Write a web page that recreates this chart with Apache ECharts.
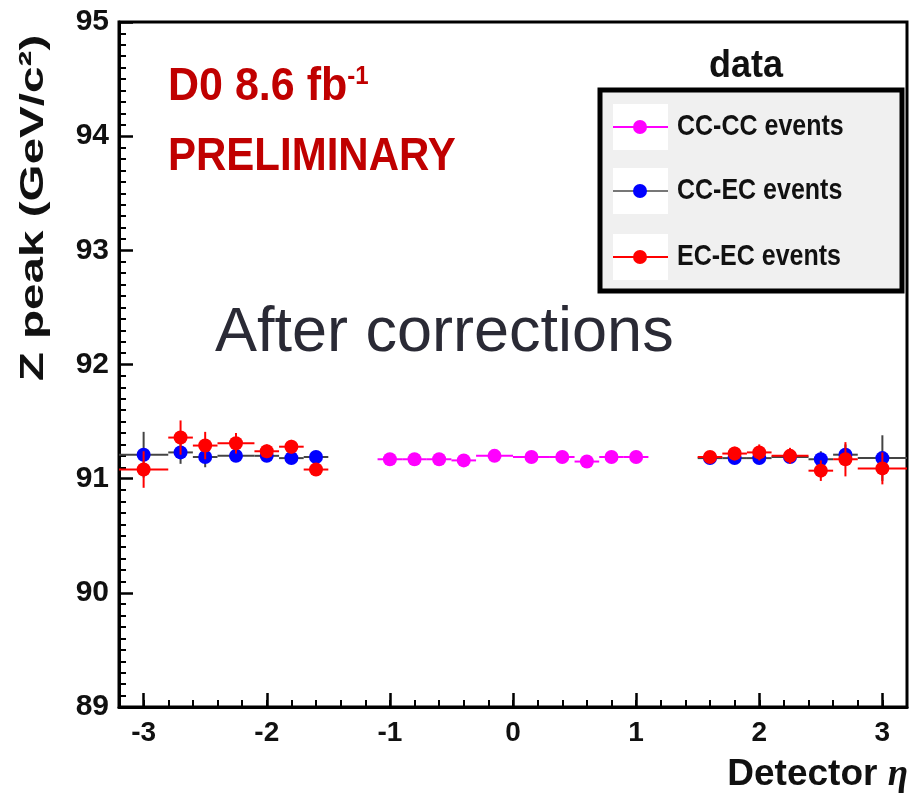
<!DOCTYPE html>
<html>
<head>
<meta charset="utf-8">
<script src="https://cdn.jsdelivr.net/npm/echarts@6/dist/echarts.min.js"></script>
<style>
  html, body { margin: 0; padding: 0; background: #ffffff; }
  #chart { width: 924px; height: 796px; }
</style>
</head>
<body>
<div id="chart"></div>
<script>
// Z peak position versus detector eta, split by event topology

// axis ticks
const etaTicks = [-3, -2, -1, 0, 1, 2, 3];
const massTicks = [89, 90, 91, 92, 93, 94, 95];

// CC-CC events: bin centre, bin low edge, bin high edge, peak, peak error
const ccccEta  = [-1.0, -0.8, -0.6, -0.4, -0.15, 0.15, 0.4, 0.6, 0.8, 1.0];
const ccccLow  = [-1.1, -0.9, -0.7, -0.5, -0.3, 0.0, 0.3, 0.5, 0.7, 0.9];
const ccccHigh = [-0.9, -0.7, -0.5, -0.3, 0.0, 0.3, 0.5, 0.7, 0.9, 1.1];
const ccccPeak = [91.17, 91.17, 91.17, 91.16, 91.20, 91.19, 91.19, 91.15, 91.19, 91.19];
const ccccErr  = [0.03, 0.03, 0.03, 0.03, 0.03, 0.03, 0.03, 0.03, 0.03, 0.03];

// CC-EC events
const ccecEta  = [-3.0, -2.7, -2.5, -2.25, -2.0, -1.8, -1.6, 1.6, 1.8, 2.0, 2.25, 2.5, 2.7, 3.0];
const ccecLow  = [-3.2, -2.8, -2.6, -2.4, -2.1, -1.9, -1.7, 1.5, 1.7, 1.9, 2.1, 2.4, 2.6, 2.8];
const ccecHigh = [-2.8, -2.6, -2.4, -2.1, -1.9, -1.7, -1.5, 1.7, 1.9, 2.1, 2.4, 2.6, 2.8, 3.2];
const ccecPeak = [91.21, 91.23, 91.19, 91.20, 91.20, 91.18, 91.19, 91.18, 91.18, 91.18, 91.19, 91.17, 91.21, 91.18];
const ccecErr  = [0.20, 0.10, 0.09, 0.05, 0.04, 0.03, 0.03, 0.03, 0.03, 0.03, 0.04, 0.07, 0.09, 0.20];

// EC-EC events
const ececEta  = [-3.0, -2.7, -2.5, -2.25, -2.0, -1.8, -1.6, 1.6, 1.8, 2.0, 2.25, 2.5, 2.7, 3.0];
const ececLow  = [-3.2, -2.8, -2.6, -2.4, -2.1, -1.9, -1.7, 1.5, 1.7, 1.9, 2.1, 2.4, 2.6, 2.8];
const ececHigh = [-2.8, -2.6, -2.4, -2.1, -1.9, -1.7, -1.5, 1.7, 1.9, 2.1, 2.4, 2.6, 2.8, 3.2];
const ececPeak = [91.08, 91.36, 91.29, 91.31, 91.24, 91.28, 91.08, 91.19, 91.22, 91.23, 91.20, 91.07, 91.17, 91.09];
const ececErr  = [0.16, 0.15, 0.12, 0.09, 0.06, 0.06, 0.05, 0.05, 0.06, 0.07, 0.07, 0.09, 0.15, 0.14];

const seriesNames = ['CC-CC events', 'CC-EC events', 'EC-EC events'];
const markerColors = ['#ff00ff', '#0000ff', '#ff0000'];
const barColors = ['#ff00ff', '#444444', '#ff0000'];

// minor eta ticks every 0.2 across the axis range
const etaMinor = [];
for (let k = -16; k <= 16; k++) etaMinor.push(Math.round(k * 2) / 10);

function rows(eta, lo, hi, peak, err) {
  return eta.map((e, i) => [e, lo[i], hi[i], peak[i], err[i]]);
}

function errorBarRenderer(markerColor, barColor) {
  return function (params, api) {
    const x = api.value(0), lo = api.value(1), hi = api.value(2);
    const y = api.value(3), e = api.value(4);
    const c = api.coord([x, y]);
    const pl = api.coord([lo, y]);
    const ph = api.coord([hi, y]);
    const pt = api.coord([x, y + e]);
    const pb = api.coord([x, y - e]);
    const lineStyle = { stroke: barColor, lineWidth: 2 };
    return {
      type: 'group',
      children: [
        { type: 'line', shape: { x1: pl[0], y1: pl[1], x2: ph[0], y2: ph[1] }, style: lineStyle },
        { type: 'line', shape: { x1: pt[0], y1: pt[1], x2: pb[0], y2: pb[1] }, style: lineStyle },
        { type: 'circle', shape: { cx: c[0], cy: c[1], r: 7 }, style: { fill: markerColor } }
      ]
    };
  };
}

const datasets = [
  rows(ccccEta, ccccLow, ccccHigh, ccccPeak, ccccErr),
  rows(ccecEta, ccecLow, ccecHigh, ccecPeak, ccecErr),
  rows(ececEta, ececLow, ececHigh, ececPeak, ececErr)
];

const series = datasets.map((d, i) => ({
  name: seriesNames[i],
  type: 'custom',
  xAxisIndex: 0,
  yAxisIndex: 0,
  clip: true,
  z: 10 + i,
  data: d,
  encode: { x: [0, 1, 2], y: [3] },
  renderItem: errorBarRenderer(markerColors[i], barColors[i])
}));

// legend drawn as graphic rows
const legendBox = { x: 600, y: 90, w: 302, h: 201 };
const legendRowsY = [127, 191, 257];
const legendChildren = [
  { type: 'rect', shape: { x: legendBox.x, y: legendBox.y, width: legendBox.w, height: legendBox.h },
    style: { fill: '#f0f0f0', stroke: '#000', lineWidth: 5 } }
];
seriesNames.forEach((name, i) => {
  const y = legendRowsY[i];
  legendChildren.push(
    { type: 'rect', shape: { x: 613, y: y - 23, width: 55, height: 46 }, style: { fill: '#ffffff' } },
    { type: 'line', shape: { x1: 613, y1: y, x2: 668, y2: y }, style: { stroke: i === 1 ? '#777777' : markerColors[i], lineWidth: 2 } },
    { type: 'circle', shape: { cx: 640, cy: y, r: 7 }, style: { fill: markerColors[i] } },
    { type: 'text', x: 677, y: y, scaleY: 1.15, style: { text: name, font: 'bold 25px "Liberation Sans", Arial, sans-serif', fill: '#111', textVerticalAlign: 'middle' } }
  );
});

const chart = echarts.init(document.getElementById('chart'), null, { renderer: 'canvas' });

chart.setOption({
  animation: false,
  backgroundColor: '#ffffff',
  grid: {
    left: 119, right: 17, top: 22, bottom: 89,
    show: true, borderColor: '#000', borderWidth: 3, backgroundColor: 'transparent'
  },
  xAxis: [
    {
      type: 'value', min: -3.2, max: 3.2, position: 'bottom',
      axisLine: { show: true, onZero: false, lineStyle: { color: '#000', width: 3 } },
      axisTick: { show: true, inside: true, length: 14, customValues: etaTicks, lineStyle: { color: '#000', width: 2.5 } },
      axisLabel: {
        show: true, customValues: etaTicks, margin: 12,
        color: '#111', fontSize: 28, fontWeight: 'bold', fontFamily: 'Liberation Sans, Arial, sans-serif'
      },
      splitLine: { show: false }
    },
    {
      type: 'value', min: -3.2, max: 3.2, position: 'bottom',
      axisLine: { show: false },
      axisTick: { show: true, inside: true, length: 7, customValues: etaMinor, lineStyle: { color: '#000', width: 2 } },
      axisLabel: { show: false },
      splitLine: { show: false }
    }
  ],
  yAxis: {
    type: 'value', min: massTicks[0], max: massTicks[massTicks.length - 1], interval: 1,
    axisLine: { show: true, onZero: false, lineStyle: { color: '#000', width: 3 } },
    axisTick: { show: true, inside: true, length: 14, lineStyle: { color: '#000', width: 2.5 } },
    minorTick: { show: true, splitNumber: 10, length: 7, lineStyle: { color: '#000', width: 2 } },
    axisLabel: {
      margin: 10, color: '#111', fontSize: 30, fontWeight: 'bold', fontFamily: 'Liberation Sans, Arial, sans-serif'
    },
    splitLine: { show: false }
  },
  series: series,
  graphic: [
    {
      type: 'text', x: 34, y: 208, rotation: Math.PI / 2, scaleX: 1.4,
      style: { text: 'Z peak (GeV/c²)', font: 'bold 34px "Liberation Sans", Arial, sans-serif', fill: '#111',
               textAlign: 'center', textVerticalAlign: 'middle' }
    },
    {
      type: 'text', x: 908, y: 775,
      style: {
        text: '{a|Detector }{b|η}', textAlign: 'right', textVerticalAlign: 'middle',
        rich: {
          a: { font: 'bold 37px "Liberation Sans", Arial, sans-serif', fill: '#111' },
          b: { font: 'italic bold 37px "Liberation Serif", serif', fill: '#111' }
        }
      }
    },
    {
      type: 'text', x: 168, y: 87, scaleY: 1.08,
      style: {
        text: '{a|D0 8.6 fb}{s|-1}', textVerticalAlign: 'middle',
        rich: {
          a: { font: 'bold 43px "Liberation Sans", Arial, sans-serif', fill: '#c00000' },
          s: { font: 'bold 24px "Liberation Sans", Arial, sans-serif', fill: '#c00000', verticalAlign: 'top', padding: [0, 0, 18, 0] }
        }
      }
    },
    {
      type: 'text', x: 168, y: 157, scaleY: 1.12,
      style: { text: 'PRELIMINARY', font: 'bold 42px "Liberation Sans", Arial, sans-serif', fill: '#c00000', textVerticalAlign: 'middle' }
    },
    {
      type: 'text', x: 215, y: 334,
      style: { text: 'After corrections', font: '63px "Liberation Sans", Arial, sans-serif', fill: '#2a2a35', textVerticalAlign: 'middle' }
    },
    {
      type: 'text', x: 746, y: 66, scaleY: 1.1,
      style: { text: 'data', font: 'bold 36px "Liberation Sans", Arial, sans-serif', fill: '#111', textAlign: 'center', textVerticalAlign: 'middle' }
    },
    { type: 'group', z: 100, children: legendChildren }
  ]
});
</script>
</body>
</html>
